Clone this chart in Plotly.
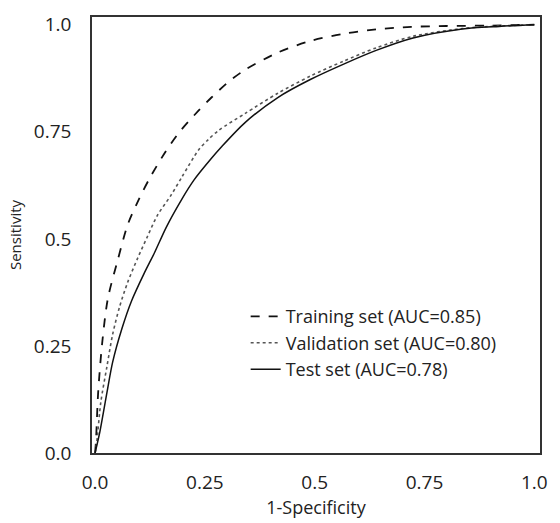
import plotly.graph_objects as go

# ROC curve data
train_fpr = [0, 0.002, 0.007, 0.016, 0.029, 0.052, 0.075, 0.101, 0.124, 0.16, 0.191, 0.236,
             0.265, 0.303, 0.342, 0.416, 0.49, 0.566, 0.64, 0.72, 0.8, 0.9, 1.0]
train_tpr = [0, 0.027, 0.141, 0.255, 0.36, 0.452, 0.535, 0.595, 0.641, 0.703, 0.748, 0.80,
             0.83, 0.866, 0.895, 0.935, 0.962, 0.979, 0.989, 0.995, 0.997, 0.998, 1.0]

valid_fpr = [0, 0.004, 0.013, 0.027, 0.04, 0.056, 0.074, 0.097, 0.119, 0.142, 0.173, 0.198,
             0.236, 0.258, 0.281, 0.342, 0.416, 0.49, 0.566, 0.64, 0.724, 0.836, 0.92, 1.0]
valid_tpr = [0, 0.027, 0.118, 0.202, 0.277, 0.342, 0.398, 0.455, 0.505, 0.555, 0.602, 0.645,
             0.708, 0.732, 0.753, 0.793, 0.84, 0.88, 0.915, 0.946, 0.973, 0.991, 0.997, 1.0]

test_fpr = [0, 0.011, 0.027, 0.04, 0.061, 0.083, 0.112, 0.135, 0.162, 0.196, 0.225, 0.265,
            0.288, 0.342, 0.416, 0.49, 0.566, 0.64, 0.724, 0.836, 0.92, 1.0]
test_tpr = [0, 0.05, 0.141, 0.212, 0.29, 0.355, 0.42, 0.467, 0.527, 0.59, 0.637, 0.688,
            0.715, 0.772, 0.83, 0.872, 0.908, 0.94, 0.969, 0.99, 0.996, 1.0]

series_names = ["Training set (AUC=0.85)", "Validation set (AUC=0.80)", "Test set (AUC=0.78)"]
tick_vals = [0, 0.25, 0.5, 0.75, 1.0]
tick_text = ["0.0", "0.25", "0.5", "0.75", "1.0"]

fig = go.Figure()
fig.add_trace(go.Scatter(x=train_fpr, y=train_tpr, mode="lines", name=series_names[0],
                         line=dict(color="#111111", width=1.8, dash="dash", shape="spline", smoothing=0.8)))
fig.add_trace(go.Scatter(x=valid_fpr, y=valid_tpr, mode="lines", name=series_names[1],
                         line=dict(color="#555555", width=1.6, dash="dot", shape="spline", smoothing=0.8)))
fig.add_trace(go.Scatter(x=test_fpr, y=test_tpr, mode="lines", name=series_names[2],
                         line=dict(color="#111111", width=1.5, shape="spline", smoothing=0.8)))

font_family = "Open Sans, Noto Sans, DejaVu Sans, sans-serif"

fig.update_layout(
    width=560, height=523,
    margin=dict(l=92, r=14, t=14, b=61),
    paper_bgcolor="white", plot_bgcolor="white",
    font=dict(family=font_family, size=15, color="#222222"),
    legend=dict(x=0.343, y=0.355, xanchor="left", yanchor="top",
                bgcolor="rgba(0,0,0,0)", font=dict(size=18, color="#222222"),
                tracegroupgap=0, itemwidth=30),
    showlegend=True,
)
fig.update_xaxes(range=[-0.007, 1.013], tickvals=tick_vals, ticktext=tick_text,
                 showgrid=False, zeroline=False, showline=True, mirror=True,
                 linecolor="#333333", linewidth=1.5, ticks="", ticklabelstandoff=11,
                 tickfont=dict(size=19),
                 title=dict(text="1-Specificity", font=dict(size=18), standoff=4))
fig.update_yaxes(range=[0, 1.018], tickvals=tick_vals, ticktext=tick_text,
                 showgrid=False, zeroline=False, showline=True, mirror=True,
                 linecolor="#333333", linewidth=1.5, ticks="", ticklabelstandoff=15,
                 tickfont=dict(size=19),
                 title=dict(text="Sensitivity", font=dict(size=15), standoff=9))

fig.write_html("out.html", config={"displayModeBar": False},
               post_script="document.body.style.margin='0px';")
